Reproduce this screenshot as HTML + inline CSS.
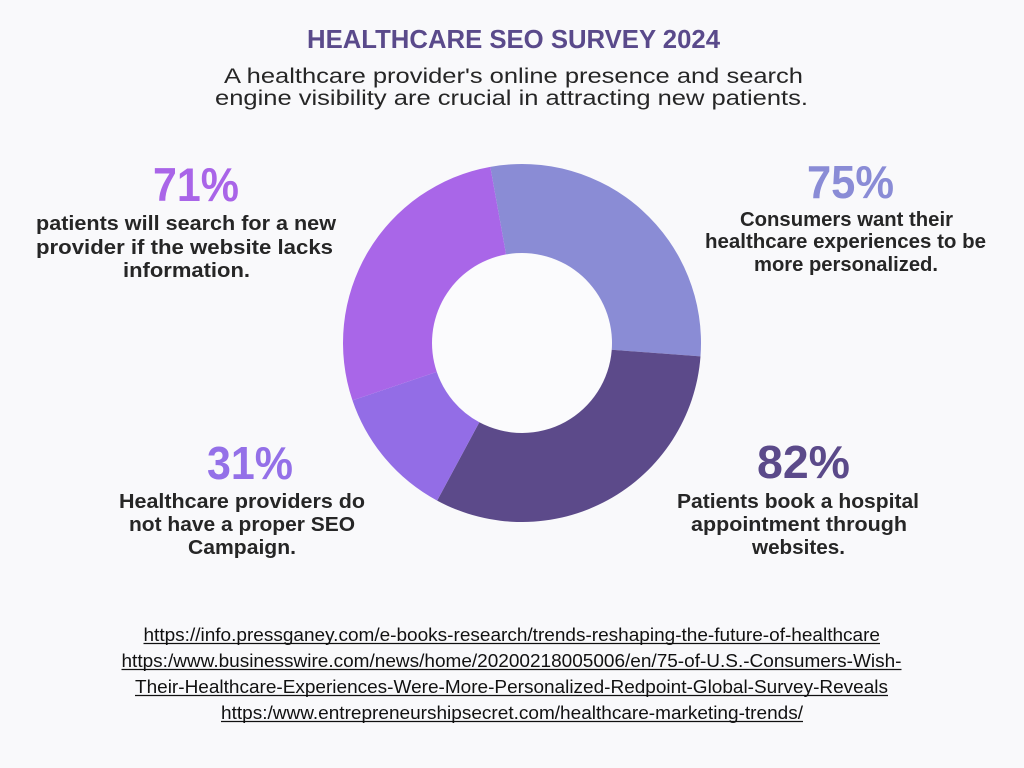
<!DOCTYPE html>
<html>
<head>
<meta charset="utf-8">
<style>
  html,body{margin:0;padding:0;background:#f9f9fb;}
  svg{display:block;}
  .t{font-family:"Liberation Sans",Arial,sans-serif;}
</style>
</head>
<body>
<svg width="1024" height="768" viewBox="0 0 1024 768" xmlns="http://www.w3.org/2000/svg">
  <rect width="1024" height="768" fill="#f9f9fb"/>

  <!-- Title -->
  <text class="t" x="307" y="48" font-size="26" font-weight="bold" fill="#5a4a8b" textLength="413" lengthAdjust="spacingAndGlyphs">HEALTHCARE SEO SURVEY 2024</text>
  <text class="t" x="224" y="83" font-size="21.5" fill="#262626" textLength="579" lengthAdjust="spacingAndGlyphs">A healthcare provider's online presence and search</text>
  <text class="t" x="215" y="105" font-size="21.5" fill="#262626" textLength="593" lengthAdjust="spacingAndGlyphs">engine visibility are crucial in attracting new patients.</text>

  <!-- Donut -->
  <path d="M 490.30 166.83 A 179 179 0 0 1 700.50 356.42 L 611.75 349.75 A 90 90 0 0 0 506.06 254.42 Z" fill="#8a8cd5"/>
  <path d="M 700.50 356.42 A 179 179 0 0 1 437.14 500.61 L 479.33 422.24 A 90 90 0 0 0 611.75 349.75 Z" fill="#5c4a8a"/>
  <path d="M 437.14 500.61 A 179 179 0 0 1 352.45 400.39 L 436.75 371.85 A 90 90 0 0 0 479.33 422.24 Z" fill="#936de6"/>
  <path d="M 352.45 400.39 A 179 179 0 0 1 490.30 166.83 L 506.06 254.42 A 90 90 0 0 0 436.75 371.85 Z" fill="#a966e8"/>
  <circle cx="522" cy="343" r="89.5" fill="#fbfbfd"/>

  <!-- Top-left -->
  <text class="t" x="153" y="201" font-size="47" font-weight="bold" fill="#a965e8" textLength="86" lengthAdjust="spacingAndGlyphs">71%</text>
  <text class="t" x="36" y="230" font-size="20" font-weight="bold" fill="#262626" textLength="300" lengthAdjust="spacingAndGlyphs">patients will search for a new</text>
  <text class="t" x="36" y="254" font-size="20" font-weight="bold" fill="#262626" textLength="297" lengthAdjust="spacingAndGlyphs">provider if the website lacks</text>
  <text class="t" x="123" y="277" font-size="20" font-weight="bold" fill="#262626" textLength="127" lengthAdjust="spacingAndGlyphs">information.</text>

  <!-- Top-right -->
  <text class="t" x="807" y="198" font-size="46" font-weight="bold" fill="#8a8cd6" textLength="87" lengthAdjust="spacingAndGlyphs">75%</text>
  <text class="t" x="740" y="226" font-size="20" font-weight="bold" fill="#262626" textLength="213" lengthAdjust="spacingAndGlyphs">Consumers want their</text>
  <text class="t" x="705" y="248" font-size="20" font-weight="bold" fill="#262626" textLength="281" lengthAdjust="spacingAndGlyphs">healthcare experiences to be</text>
  <text class="t" x="754" y="271" font-size="20" font-weight="bold" fill="#262626" textLength="184" lengthAdjust="spacingAndGlyphs">more personalized.</text>

  <!-- Bottom-left -->
  <text class="t" x="207" y="479" font-size="46" font-weight="bold" fill="#9470e8" textLength="86" lengthAdjust="spacingAndGlyphs">31%</text>
  <text class="t" x="119" y="508" font-size="20" font-weight="bold" fill="#262626" textLength="246" lengthAdjust="spacingAndGlyphs">Healthcare providers do</text>
  <text class="t" x="129" y="531" font-size="20" font-weight="bold" fill="#262626" textLength="226" lengthAdjust="spacingAndGlyphs">not have a proper SEO</text>
  <text class="t" x="188" y="554" font-size="20" font-weight="bold" fill="#262626" textLength="108" lengthAdjust="spacingAndGlyphs">Campaign.</text>

  <!-- Bottom-right -->
  <text class="t" x="757" y="478" font-size="46" font-weight="bold" fill="#5b4a8a" textLength="93" lengthAdjust="spacingAndGlyphs">82%</text>
  <text class="t" x="677" y="508" font-size="20" font-weight="bold" fill="#262626" textLength="242" lengthAdjust="spacingAndGlyphs">Patients book a hospital</text>
  <text class="t" x="691" y="531" font-size="20" font-weight="bold" fill="#262626" textLength="216" lengthAdjust="spacingAndGlyphs">appointment through</text>
  <text class="t" x="752" y="554" font-size="20" font-weight="bold" fill="#262626" textLength="93" lengthAdjust="spacingAndGlyphs">websites.</text>

  <!-- Sources -->
  <g fill="#111111">
    <text class="t" x="143.5" y="641" font-size="18" textLength="736.5" lengthAdjust="spacingAndGlyphs">https://info.pressganey.com/e-books-research/trends-reshaping-the-future-of-healthcare</text>
    <text class="t" x="121.5" y="667" font-size="18" textLength="780" lengthAdjust="spacingAndGlyphs">https:/www.businesswire.com/news/home/20200218005006/en/75-of-U.S.-Consumers-Wish-</text>
    <text class="t" x="135" y="693" font-size="18" textLength="753" lengthAdjust="spacingAndGlyphs">Their-Healthcare-Experiences-Were-More-Personalized-Redpoint-Global-Survey-Reveals</text>
    <text class="t" x="221" y="719" font-size="18" textLength="582" lengthAdjust="spacingAndGlyphs">https:/www.entrepreneurshipsecret.com/healthcare-marketing-trends/</text>
  </g>
  <g stroke="#111111" stroke-width="1.2">
    <line x1="143.5" y1="643.5" x2="880" y2="643.5"/>
    <line x1="121.5" y1="669.5" x2="901.5" y2="669.5"/>
    <line x1="135" y1="695.5" x2="888" y2="695.5"/>
    <line x1="221" y1="721.5" x2="803" y2="721.5"/>
  </g>
</svg>
</body>
</html>
